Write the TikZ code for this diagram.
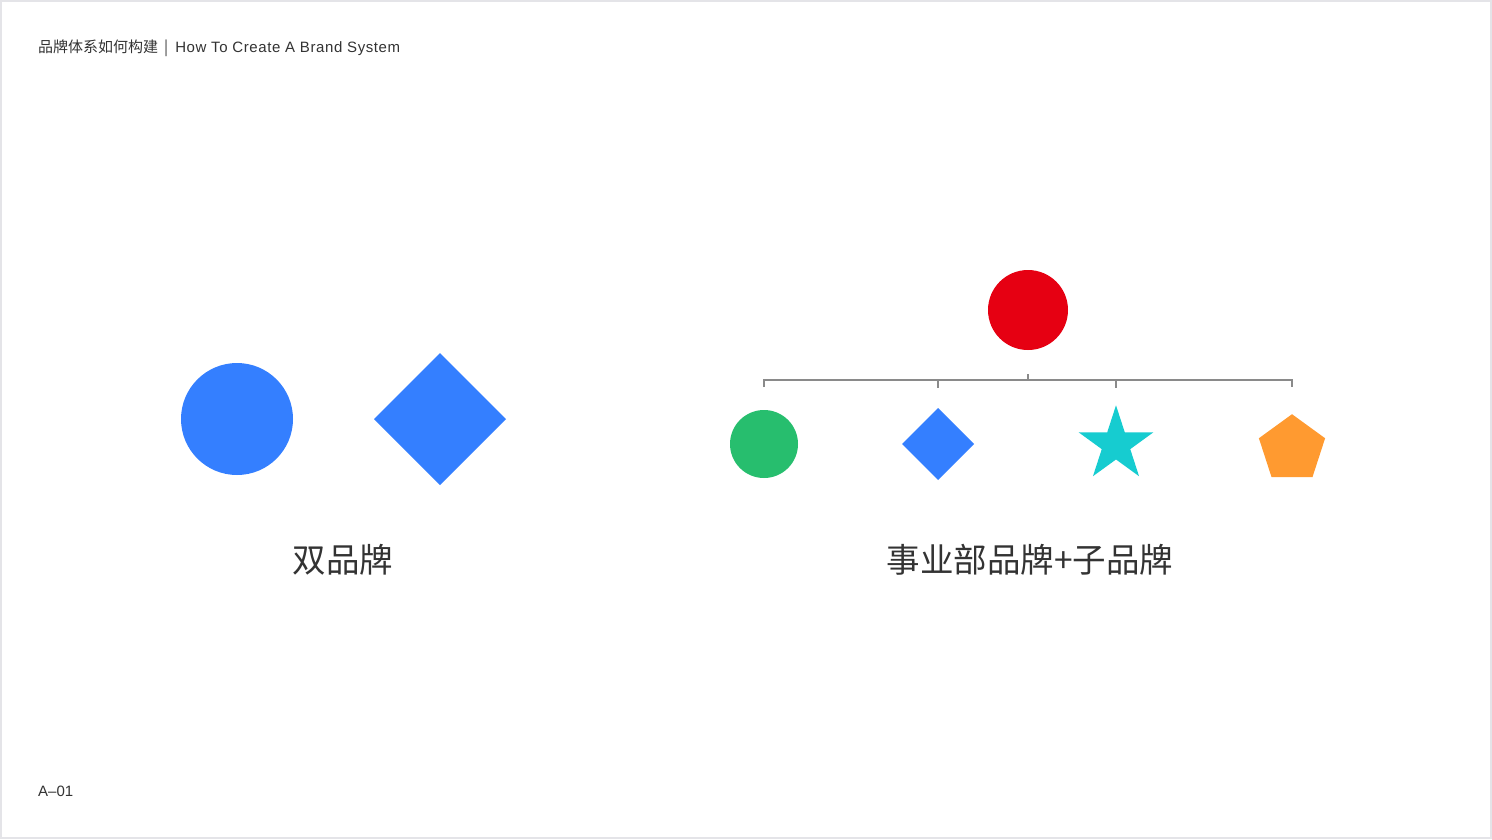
\documentclass[tikz,border=0pt]{standalone}
\usepackage{fontspec}
\setmainfont{Noto Sans CJK SC}
\newfontfamily\latinfont[LetterSpace=4]{Liberation Sans}
\newfontfamily\pgfont{Liberation Sans}
\usetikzlibrary{shapes.geometric}
\definecolor{frame}{HTML}{E4E4E8}
\definecolor{txt}{HTML}{333333}
\definecolor{blue}{HTML}{347FFF}
\definecolor{red}{HTML}{E60012}
\definecolor{green}{HTML}{27BE6E}
\definecolor{cyan}{HTML}{16CCD0}
\definecolor{orange}{HTML}{FF9A30}
\definecolor{line}{HTML}{8A8A8A}
\tikzset{
  shp/.style={draw=none,inner sep=0pt,outer sep=0pt},
  conn/.style={draw=line,line width=1.3pt},
  lbl/.style={text=txt,inner sep=0pt,font=\fontsize{33.5}{38}\selectfont},
  small/.style={text=txt,inner sep=0pt,anchor=base west,font=\fontsize{15}{18}\selectfont}
}
\begin{document}
\begin{tikzpicture}[x=1pt,y=-1pt]
\useasboundingbox (0,0) rectangle (1492,839);
\fill[frame] (0,0) rectangle (1492,839);
\fill[white] (2,2) rectangle (1490,837);
\node[small] (hdr) at (38,52) {品牌体系如何构建\hspace{6pt}|\hspace{7pt}{\latinfont How To Create A Brand System}};
\node[small] (pg) at (38,796) {\pgfont A–01};
% left pair
\node[shp,circle,fill=blue,minimum size=112pt] (c1) at (237,419) {};
\node[shp,diamond,fill=blue,minimum width=132pt,minimum height=132pt] (d1) at (440,419) {};
\node[lbl] (l1) at (343,560) {双品牌};
% right tree
\node[shp,circle,fill=red,minimum size=80pt] (top) at (1028,310) {};
\node[shp,circle,fill=green,minimum size=68pt] (s1) at (764,444) {};
\node[shp,diamond,fill=blue,minimum width=72pt,minimum height=72pt] (s2) at (938,444) {};
\node[shp,star,star points=5,star point ratio=2.618,fill=cyan,minimum size=78.4pt] (s3) at (1116,444.5) {};
\node[shp,regular polygon,regular polygon sides=5,fill=orange,minimum size=69.6pt] (s4) at (1292,449) {};
\coordinate (hub) at (1028,374);
\coordinate (b1) at (764,380);
\coordinate (b4) at (1292,380);
\draw[conn] (b1 |- 0,387) -- (b1) -- (b4) -- (b4 |- 0,387);
\draw[conn] (hub) -- (hub |- b1);
\draw[conn] (s2 |- b1) -- (s2 |- 0,388);
\draw[conn] (s3 |- b1) -- (s3 |- 0,388);
\node[lbl] (l2) at (1030,560) {事业部品牌+子品牌};
\end{tikzpicture}
\end{document}
